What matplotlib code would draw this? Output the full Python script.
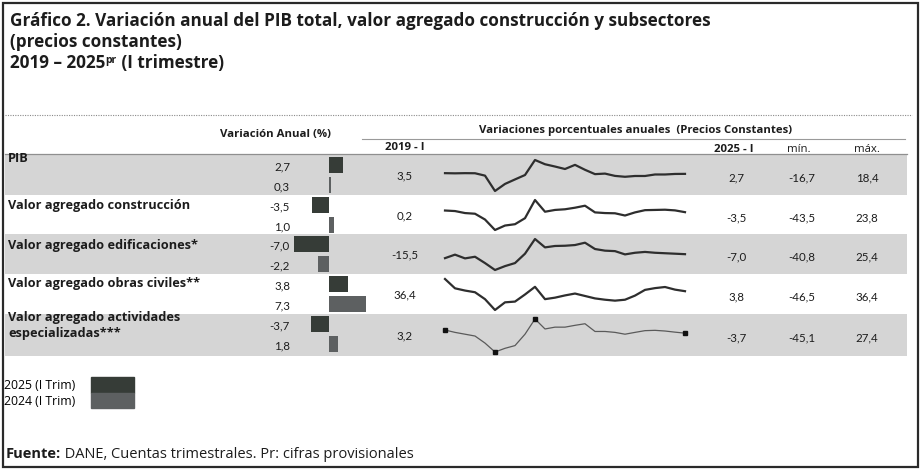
import matplotlib.pyplot as plt
from matplotlib.patches import Patch, Rectangle

W, H = 922, 470

# ---- data ----
rows = ["PIB", "Valor agregado construcción", "Valor agregado edificaciones*",
        "Valor agregado obras civiles**", "Valor agregado actividades\nespecializadas***"]
var_2025 = [2.7, -3.5, -7.0, 3.8, -3.7]   # 2025 (I Trim)
var_2024 = [0.3, 1.0, -2.2, 7.3, 1.8]     # 2024 (I Trim)

# quarterly annual variation 2019-I .. 2025-I (25 points)
pib = [3.5, 3.3, 3.5, 3.4, 0.7, -16.7, -8.7, -3.6, 1.4, 18.4, 13.6, 11.0, 8.2,
       12.9, 7.3, 2.4, 3.0, 0.4, -0.6, 0.3, 0.3, 2.0, 2.0, 2.6, 2.7]
construccion = [0.2, -1.0, -5.5, -7.0, -20.0, -43.5, -33.5, -30.5, -17.0, 23.8,
                -2.5, 1.5, 3.0, 6.5, 11.0, -4.0, -5.5, -6.0, -11.0, -4.0, 1.0,
                1.5, 2.0, 0.5, -3.5]
edificaciones = [-15.5, -8.0, -16.0, -12.5, -26.0, -40.8, -32.5, -26.0, -6.0,
                 25.4, 7.5, 10.5, 11.0, 12.5, 17.5, 4.0, 0.5, -0.5, -7.5, -4.0,
                 -2.2, -4.0, -5.0, -6.0, -7.0]
obras_civiles = [36.4, 11.5, 5.5, 1.0, -17.5, -46.5, -26.0, -24.0, -5.0, 15.5,
                 -17.5, -13.5, -7.5, -2.5, -9.0, -15.5, -19.0, -21.5, -19.0,
                 -8.0, 7.3, 12.0, 15.0, 8.0, 3.8]
actividades = [3.2, -2.0, -6.0, -10.0, -25.5, -45.1, -37.0, -31.0, -6.0, 27.4,
               5.5, 9.5, 9.5, 13.5, 17.0, 0.0, 0.0, -2.0, -6.0, -2.0, 1.8, 2.5,
               1.0, -1.5, -3.7]
series = [pib, construccion, edificaciones, obras_civiles, actividades]


def fmt(v):
    return f"{v:.1f}".replace(".", ",")


TXT = "#1c1c1c"
BAND = "#d5d5d5"
C25 = "#363c37"
C24 = "#5d6061"
OPEN = ["Open Sans", "DejaVu Sans"]
plt.rcParams["font.family"] = ["Lato", "DejaVu Sans"]

fig = plt.figure(figsize=(W / 100, H / 100), dpi=100)
bg = fig.add_axes([0, 0, 1, 1])
bg.set_xlim(0, W)
bg.set_ylim(H, 0)
bg.axis("off")


def px_axes(x0, y0, x1, y1):
    return fig.add_axes([x0 / W, 1 - y1 / H, (x1 - x0) / W, (y1 - y0) / H])


def rich(x, y, parts, **kw):
    r = fig.canvas.get_renderer()
    for txt, style in parts:
        style = dict(style)
        dy = style.pop("dy", 0)
        t = bg.text(x, y + dy, txt, **kw, **style)
        x += t.get_window_extent(r).width


# frame and separators
bg.add_patch(Rectangle((3, 3), 915, 464, fill=False, ec="#2a2a2a", lw=1.6))
bg.axhline(115, xmin=5 / W, xmax=912 / W, color="#8a8a8a", lw=0.8, ls=(0, (1, 1.2)))
bg.axhline(139, xmin=362 / W, xmax=905 / W, color="#9a9a9a", lw=0.8)
bg.axhline(154, xmin=5 / W, xmax=907 / W, color="#8f8f8f", lw=0.9)

row_top = [155, 195, 234, 274, 314]
row_bot = [195, 234, 274, 314, 356]
for i in (0, 2, 4):
    bg.fill_between([5, 907], row_top[i], row_bot[i], color=BAND, lw=0, zorder=0)

# title
tkw = dict(family=OPEN, weight="bold", color=TXT, va="baseline")
bg.text(10, 26, "Gráfico 2. Variación anual del PIB total, valor agregado construcción y subsectores",
        fontsize=12.3, **tkw)
bg.text(10, 47, "(precios constantes)", fontsize=12.3, **tkw)
rich(10, 68, [("2019 – 2025", dict(fontsize=12.3)),
              ("pr", dict(fontsize=7.5, dy=-5)),
              (" (I trimestre)", dict(fontsize=12.3))], **tkw)

# headers
hkw = dict(fontsize=8.2, weight="bold", color=TXT, va="center", ha="center", family=OPEN)
bg.text(275, 134, "Variación Anual (%)", **hkw)
bg.text(636, 130, "Variaciones porcentuales anuales  (Precios Constantes)", **hkw)
bg.text(405, 147, "2019 - I", **hkw)
bg.text(734, 150, "2025 - I", **hkw)
bg.text(799, 150, "mín.", **dict(hkw, weight="normal"))
bg.text(867, 150, "máx.", **dict(hkw, weight="normal"))

# bars
c25 = [t + 10 for t in row_top]
c24 = [t + 30 for t in row_top]
bx = px_axes(280, 155, 380, 356)
bx.set_xlim((280 - 329) / 5.0, (380 - 329) / 5.0)
bx.set_ylim(356, 155)
bx.barh(c25, var_2025, height=16, color=C25)
bx.barh(c24, var_2024, height=16, color=C24)
bx.axis("off")

nkw = dict(fontsize=8.3, color=TXT, va="center")
label_y = [158, 206, 245, 283, 311]
for i, name in enumerate(rows):
    bg.text(8, label_y[i], name, fontsize=9.2, weight="bold", color=TXT, family=OPEN,
            va="top" if "\n" in name else "center", linespacing=1.3)
    bg.text(290, c25[i] + 2, fmt(var_2025[i]), ha="right", **nkw)
    bg.text(290, c24[i] + 2, fmt(var_2024[i]), ha="right", **nkw)

    s = series[i]
    mid = (row_top[i] + row_bot[i]) / 2
    bg.text(405, mid + 1, fmt(s[0]), ha="center", **nkw)
    bg.text(736, mid + 3, fmt(s[-1]), ha="center", **nkw)
    bg.text(802, mid + 3, fmt(min(s)), ha="center", **nkw)
    bg.text(867, mid + 3, fmt(max(s)), ha="center", **nkw)

    sx = px_axes(445, row_top[i] + 5, 685, row_bot[i] - 4)
    n = len(s)
    if i == 4:
        marks = [0, s.index(min(s)), s.index(max(s)), n - 1]
        sx.plot(range(n), s, color="#5a5a5a", lw=0.9, marker="s", ms=2.5,
                mfc="#111", mec="#111", markevery=marks, clip_on=False)
    else:
        sx.plot(range(n), s, color="#2e2e2e", lw=1.6, clip_on=False)
    sx.set_xlim(0, n - 1)
    sx.set_ylim(min(s), max(s))
    sx.axis("off")

# legend
fig.legend(handles=[Patch(color=C25), Patch(color=C24)],
           labels=["2025 (I Trim)", "2024 (I Trim)"],
           markerfirst=False, frameon=False, loc="upper left",
           bbox_to_anchor=(4 / W, 1 - 377 / H),
           prop=dict(family=OPEN, size=8.8),
           handlelength=3.5, handleheight=1.6, labelspacing=0.0,
           handletextpad=1.3, borderpad=0, borderaxespad=0)

# source
rich(6, 458, [("Fuente:", dict(weight="bold")),
              (" DANE, Cuentas trimestrales. Pr: cifras provisionales", {})],
     fontsize=10.5, color=TXT, va="baseline", family=OPEN)

fig.savefig("out.png", dpi=100)
